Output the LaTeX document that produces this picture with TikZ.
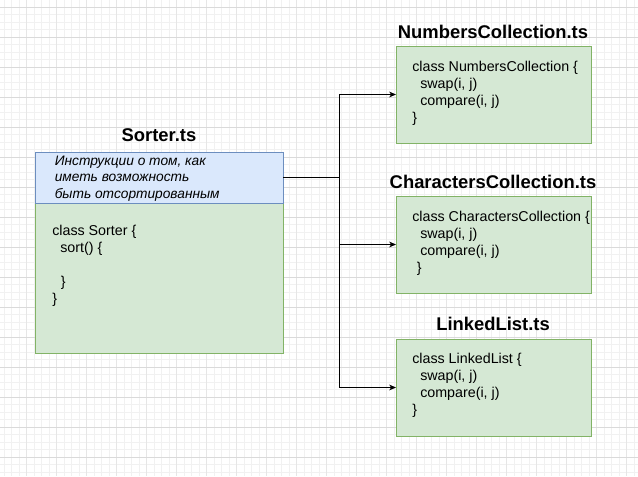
\documentclass[tikz,border=0pt]{standalone}
\usepackage{fontspec}
\setmainfont{Liberation Sans}
\usetikzlibrary{arrows.meta}
\definecolor{gfill}{HTML}{D5E8D4}
\definecolor{gdraw}{HTML}{82B366}
\definecolor{bfill}{HTML}{DAE8FC}
\definecolor{bdraw}{HTML}{6C8EBF}
\definecolor{gridminor}{HTML}{F1F1F1}
\definecolor{gridmajorh}{HTML}{DADADA}
\definecolor{gridmajorv}{HTML}{E6E6E6}
\begin{document}
\begin{tikzpicture}[x=0.75pt,y=-0.75pt,
  greenbox/.style={draw=gdraw, fill=gfill, line width=0.75pt, inner sep=0pt, outer sep=0pt},
  bluebox/.style={draw=bdraw, fill=bfill, line width=0.75pt, inner sep=0pt, outer sep=0pt},
  titletext/.style={font=\fontsize{13.8}{16}\selectfont\bfseries, inner sep=0pt},
  codetext/.style={font=\fontsize{10.7}{12.75}\selectfont, align=left, anchor=north west, inner sep=0pt},
  notetext/.style={font=\fontsize{10.3}{12.5}\selectfont\itshape, align=left, anchor=north west, inner sep=0pt},
  link/.style={draw=black, line width=0.75pt},
  arr/.style={link, -{Stealth[length=5pt,width=4.2pt,inset=1.3pt]}},
]
\useasboundingbox (0,0) rectangle (638,476);
\fill[white] (0,0) rectangle (638,476);
% grid
\foreach \i in {0,...,85} \draw[gridminor, line width=0.6pt] ({4.2+7.5*\i},0) -- ({4.2+7.5*\i},476);
\foreach \j in {0,...,64} \draw[gridminor, line width=0.6pt] (0,{-0.2+7.5*\j}) -- (638,{-0.2+7.5*\j});
\foreach \i in {0,...,20} \draw[gridmajorv, line width=0.8pt] ({26.7+30*\i},0) -- ({26.7+30*\i},476);
\foreach \j in {0,...,15} \draw[gridmajorh, line width=0.6pt] (0,{7.3+30*\j}) -- (638,{7.3+30*\j});

% Sorter
\node[greenbox, minimum width=186pt, minimum height=112.5pt] (sorterBody) at (159,278) {};
\node[bluebox, minimum width=186pt, minimum height=38.25pt] (sorterTop) at (159,177.5) {};
\node[titletext] (sorterTitle) at (159,135) {Sorter.ts};
\node[notetext] (sorterNote) at (54.5,155.5) {Инструкции о том, как\\иметь возможность\\быть отсортированным};
\node[codetext] (sorterCode) at (52,225) {class Sorter \{\\\hspace*{6pt}sort() \{\\\mbox{}\\\hspace*{6.5pt}\}\\\}};

% Numbers
\node[greenbox, minimum width=146.25pt, minimum height=72.75pt] (numbers) at (493.5,94.5) {};
\node[titletext] (numbersTitle) at (493,32) {NumbersCollection.ts};
\node[codetext] (numbersCode) at (412,61) {class NumbersCollection \{\\\hspace*{6pt}swap(i, j)\\\hspace*{6pt}compare(i, j)\\\}};

% Characters
\node[greenbox, minimum width=146.25pt, minimum height=72.75pt] (chars) at (493.5,244.5) {};
\node[titletext] (charsTitle) at (493,182) {CharactersCollection.ts};
\node[codetext] (charsCode) at (412,211) {class CharactersCollection \{\\\hspace*{6pt}swap(i, j)\\\hspace*{6pt}compare(i, j)\\\hspace*{3.5pt}\}};

% LinkedList
\node[greenbox, minimum width=146.25pt, minimum height=72.75pt] (linked) at (493.5,387.5) {};
\node[titletext] (linkedTitle) at (493,324) {LinkedList.ts};
\node[codetext] (linkedCode) at (412,353) {class LinkedList \{\\\hspace*{6pt}swap(i, j)\\\hspace*{6pt}compare(i, j)\\\}};

% connectors
\coordinate (junc) at (339,177.5);
\draw[link] (sorterTop.east) -- (junc);
\draw[arr] (junc) |- (numbers.west);
\draw[arr] (junc) |- (chars.west);
\draw[arr] (junc) |- (linked.west);
\end{tikzpicture}
\end{document}
